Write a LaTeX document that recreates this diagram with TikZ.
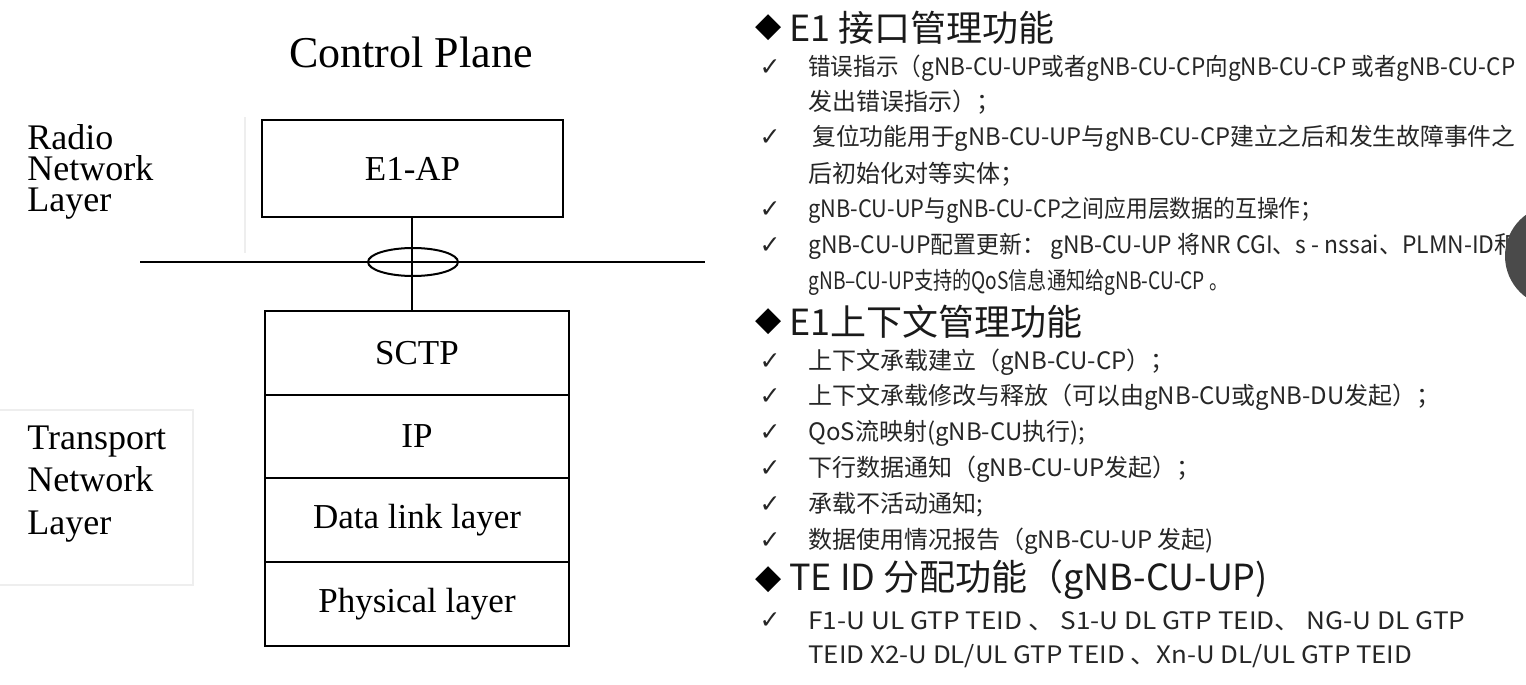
\documentclass[tikz,border=0pt]{standalone}
\usepackage{graphicx}
\usepackage{fontspec}
\setmainfont{Liberation Serif}
\newfontfamily\cjk{Noto Sans CJK SC}
\newfontfamily\symf{DejaVu Sans}
\newcommand\fitto[2]{\resizebox{#1}{\height}{#2}}
\definecolor{txtgray}{HTML}{262626}
\definecolor{headgray}{HTML}{1A1A1A}
\definecolor{faint}{HTML}{EEEEEE}
\definecolor{blob}{HTML}{4A4A4A}
\begin{document}
\begin{tikzpicture}[x=0.5pt,y=-0.5pt,
  boxline/.style={draw, line width=1.2pt, inner sep=0pt, font=\fontsize{17.5}{20}\selectfont},
  layerbox/.style={boxline, minimum width=152pt, minimum height=41.75pt},
  lbl/.style={anchor=north west, inner sep=0pt, align=left},
  conn/.style={line width=1pt},
  body/.style={anchor=west, inner sep=0pt, font=\cjk\fontsize{12}{14}\selectfont, text=txtgray},
  head/.style={anchor=west, inner sep=0pt, font=\cjk\fontsize{18}{20}\selectfont, text=headgray},
  chk/.style={anchor=center, inner sep=0pt, font=\symf\fontsize{12.5}{14}\selectfont, text=txtgray},
  dia/.style={anchor=center, inner sep=0pt, font=\symf\fontsize{17}{19}\selectfont, text=black}
]
\useasboundingbox (0,0) rectangle (1526,685);
\clip (0,0) rectangle (1526,685);
\fill[white] (0,0) rectangle (1526,685);

% faint frames
\draw[faint, line width=0.6pt] (245,117) -- (245,253);
\draw[faint, line width=0.6pt] (0,410) -- (193,410) -- (193,585) -- (0,585);

% left diagram
\node[anchor=base, inner sep=0pt, font=\fontsize{22}{24}\selectfont] (cp) at (411,67) {Control Plane};
\node[boxline, minimum width=150.5pt, minimum height=48.5pt] (e1ap) at (412.5,168.5) {E1-AP};
\node[layerbox] (sctp) at (417,353) {SCTP};
\node[layerbox] (ip) at (417,436.5) {IP};
\node[layerbox] (dll) at (417,520) {Data link layer};
\node[layerbox] (phy) at (417,604) {Physical layer};

\coordinate (hl) at (140,262);
\coordinate (hr) at (705,262);
\draw[conn] (hl) -- (hr);
\draw[conn] (e1ap.south -| 412,0) -- (sctp.north -| 412,0);
\draw[conn] (413,262) ellipse [x radius=45, y radius=14];

\node[lbl, font=\fontsize{18}{15.5}\selectfont] (rnl) at (27,124.5) {Radio\\Network\\Layer};
\node[lbl, font=\fontsize{18}{21.25}\selectfont] (tnl) at (27,425.5) {Transport\\Network\\Layer};

% right text
\node[dia] (d1) at (769,28) {◆};
\node[head] (h1) at (789,28) {E1 接口管理功能};
\node[chk] (c1) at (770,68) {✓};
\node[body] (b1) at (808,68) {\fitto{353.5pt}{错误指示（gNB-CU-UP或者gNB-CU-CP向gNB-CU-CP 或者gNB-CU-CP}};
\node[body] (b1b) at (808,102) {发出错误指示）；};
\node[chk] (c2) at (770,138) {✓};
\node[body] (b2) at (812,138) {\fitto{351.5pt}{复位功能用于gNB-CU-UP与gNB-CU-CP建立之后和发生故障事件之}};
\node[body] (b2b) at (808,174) {后初始化对等实体；};
\node[chk] (c3) at (770,210) {✓};
\node[body] (b3) at (808,210) {\fitto{257pt}{gNB-CU-UP与gNB-CU-CP之间应用层数据的互操作；}};
\node[chk] (c4) at (770,246) {✓};
\node[body] (b4) at (808,246) {\fitto{354.5pt}{gNB-CU-UP配置更新： gNB-CU-UP 将NR CGI、s - nssai、PLMN-ID和}};
\node[body] (b4b) at (808,282) {\fitto{210pt}{gNB–CU-UP支持的QoS信息通知给gNB-CU-CP 。}};

\node[dia] (d2) at (769,322) {◆};
\node[head] (h2) at (789,322) {E1上下文管理功能};
\node[chk] (c5) at (770,362) {✓};
\node[body] (b5) at (808,362) {上下文承载建立（gNB-CU-CP）；};
\node[chk] (c6) at (770,397) {✓};
\node[body] (b6) at (808,397) {上下文承载修改与释放（可以由gNB-CU或gNB-DU发起）；};
\node[chk] (c7) at (770,433) {✓};
\node[body] (b7) at (808,433) {QoS流映射(gNB-CU执行);};
\node[chk] (c8) at (770,469) {✓};
\node[body] (b8) at (808,469) {下行数据通知（gNB-CU-UP发起）；};
\node[chk] (c9) at (770,505) {✓};
\node[body] (b9) at (808,505) {承载不活动通知;};
\node[chk] (c10) at (770,541) {✓};
\node[body] (b10) at (808,541) {数据使用情况报告（gNB-CU-UP 发起)};

\node[dia] (d3) at (769,580) {◆};
\node[head] (h3) at (789,580) {TE ID 分配功能（gNB-CU-UP)};
\node[chk] (c11) at (770,621) {✓};
\node[body] (b11) at (808,621) {\fitto{328.5pt}{F1-U UL GTP TEID 、 S1-U DL GTP TEID、 NG-U DL GTP}};
\node[body] (b11b) at (808,656) {\fitto{302pt}{TEID X2-U DL/UL GTP TEID 、Xn-U DL/UL GTP TEID}};

% dark overlay circle at the right edge
\fill[blob] (1556,256) circle (51);
\end{tikzpicture}
\end{document}
